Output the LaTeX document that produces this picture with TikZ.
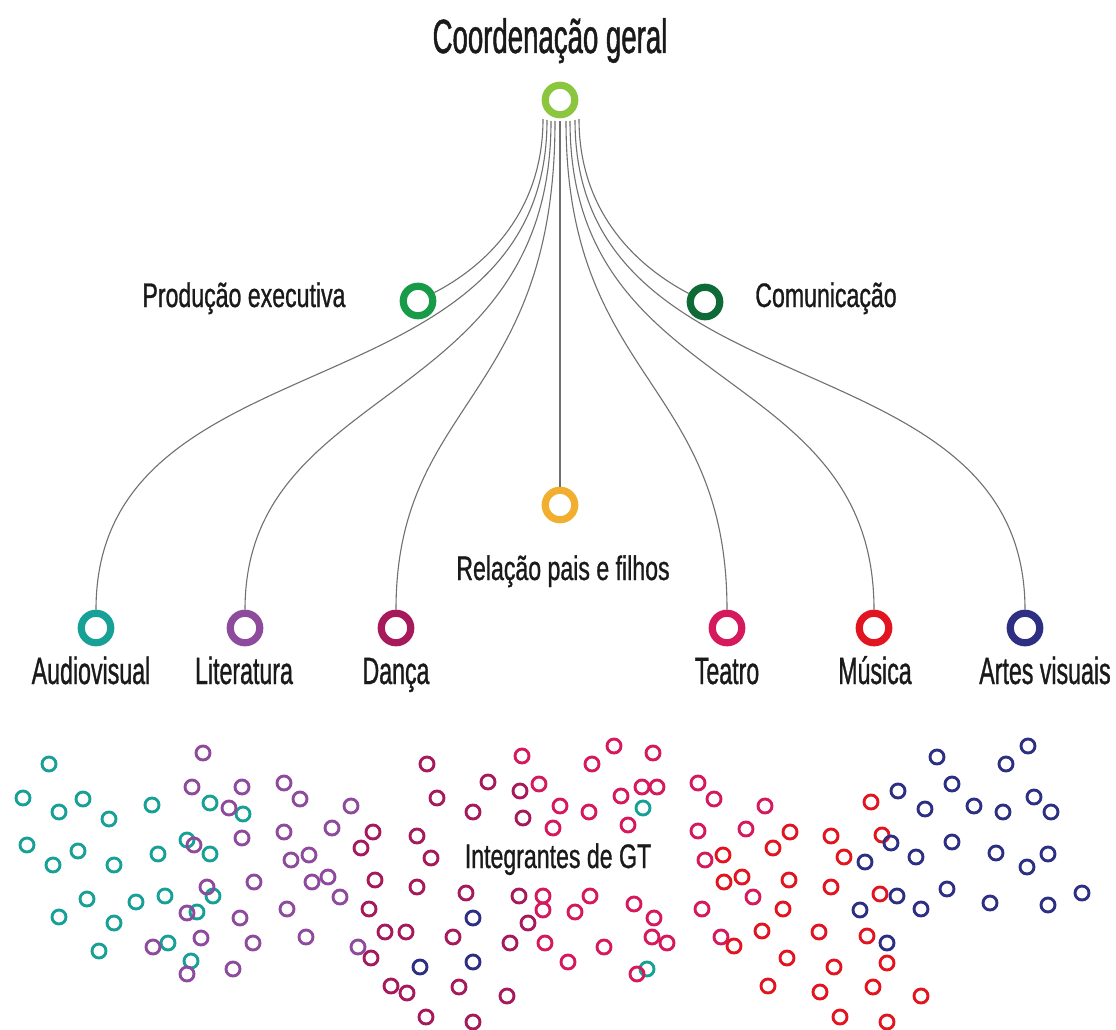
\documentclass[tikz,border=0pt]{standalone}
\usepackage{fontspec}
\newfontfamily\lblfont[FakeStretch=0.68,FakeBold=0.8]{Liberation Sans}
\newfontfamily\botfont[FakeStretch=0.61,FakeBold=0.8]{Liberation Sans}
\newfontfamily\ttlfont[FakeStretch=0.575,FakeBold=1]{Liberation Sans}
\definecolor{cgeral}{HTML}{8CC63F}
\definecolor{cprod}{HTML}{179B48}
\definecolor{ccomu}{HTML}{0E6B36}
\definecolor{crel}{HTML}{F2AE2E}
\definecolor{caud}{HTML}{17A095}
\definecolor{clit}{HTML}{8E4B9D}
\definecolor{cdan}{HTML}{A6195B}
\definecolor{ctea}{HTML}{D6185C}
\definecolor{cmus}{HTML}{E2141F}
\definecolor{cart}{HTML}{2D2F82}
\definecolor{cedge}{HTML}{707070}
\definecolor{ctext}{HTML}{1A1A1A}
\begin{document}
\begin{tikzpicture}[x=1pt,y=-1pt,
  ring/.style={circle,draw=#1,line width=7.2pt,fill=white,minimum size=29.5pt,inner sep=0pt},
  dot/.style={circle,draw=#1,line width=2.9pt,minimum size=14pt,inner sep=0pt},
  lbl/.style={font=\lblfont\fontsize{34}{40}\selectfont,anchor=base,text=ctext,inner sep=0pt},
  bot/.style={font=\botfont\fontsize{38}{44}\selectfont,anchor=base,text=ctext,inner sep=0pt},
  ttl/.style={font=\ttlfont\fontsize{48}{54}\selectfont,anchor=base,text=ctext,inner sep=0pt},
  link/.style={draw=cedge,line width=1.1pt}]
\fill[white] (0,0) rectangle (1116,1030);
\useasboundingbox (0,0) rectangle (1116,1030);

% titles and labels
\node[ttl] (title) at (550,53) {Coordenação geral};
\node[lbl] (lprod) at (244,307) {Produção executiva};
\node[lbl] (lcomu) at (826,307) {Comunicação};
\node[lbl] (lrel) at (563,580) {Relação pais e filhos};
\node[bot] (laud) at (91,684) {Audiovisual};
\node[bot] (llit) at (244,684) {Literatura};
\node[bot] (ldan) at (396,684) {Dança};
\node[bot] (ltea) at (727,684) {Teatro};
\node[bot] (lmus) at (875,684) {Música};
\node[bot] (lart) at (1045,684) {Artes visuais};
\node[lbl] (lgt) at (558,868) {Integrantes de GT};

% main rings
\node[ring=cgeral] (geral) at (560,100) {};
\node[ring=cprod] (prod) at (418,301) {};
\node[ring=ccomu] (comu) at (705,302) {};
\node[ring=crel] (rel) at (560,505) {};
\node[ring=caud] (aud) at (96,628) {};
\node[ring=clit] (lit) at (245,628) {};
\node[ring=cdan] (dan) at (396,628) {};
\node[ring=ctea] (tea) at (727,628) {};
\node[ring=cmus] (mus) at (874,628) {};
\node[ring=cart] (art) at (1025,628) {};

% start points of links
\coordinate (s1) at (543,119);
\coordinate (s2) at (547,120);
\coordinate (s3) at (551,121);
\coordinate (s4) at (555,121);
\coordinate (s5) at (560,121);
\coordinate (s6) at (566,121);
\coordinate (s7) at (570,121);
\coordinate (s8) at (575,120);
\coordinate (s9) at (579,119);

\draw[link] (s1) .. controls (543,215) and (482,268) .. (prod);
\draw[link] (s2) .. controls (547,420) and (96,330) .. (aud);
\draw[link] (s3) .. controls (551,410) and (245,380) .. (lit);
\draw[link] (s4) .. controls (555,400) and (396,400) .. (dan);
\draw[link] (s5) -- (rel);
\draw[link] (s6) .. controls (566,380) and (727,380) .. (tea);
\draw[link] (s7) .. controls (570,400) and (874,360) .. (mus);
\draw[link] (s8) .. controls (575,420) and (1025,330) .. (art);
\draw[link] (s9) .. controls (579,215) and (640,268) .. (comu);

% members: audiovisual
\foreach \x/\y [count=\i] in {49/764,23/798,83/799,59/812,109/819,152/805,27/845,78/851,53/865,114/865,158/854,87/899,136/902,165/896,59/917,114/923,99/951,168/943,210/803,243/814,187/840,210/854,213/896,197/912,191/961,643/808,647/969}
  \node[dot=caud] (ma\i) at (\x,\y) {};
% literatura
\foreach \x/\y [count=\i] in {153/947,203/753,192/787,242/787,229/808,284/783,300/799,351/806,194/845,242/838,284/832,332/828,291/860,309/855,207/887,254/882,312/882,328/877,340/897,187/913,240/918,287/909,201/938,253/943,306/937,187/974,233/969,358/947}
  \node[dot=clit] (ml\i) at (\x,\y) {};
% danca
\foreach \x/\y [count=\i] in {427/764,437/798,488/782,520/791,473/812,523/818,373/832,417/836,361/848,431/858,375/880,417/887,466/893,519/896,369/909,528/923,385/932,406/932,453/937,510/943,371/958,391/986,407/993,459/987,507/996,426/1017,473/1022}
  \node[dot=cdan] (md\i) at (\x,\y) {};
% teatro
\foreach \x/\y [count=\i] in {522/756,539/784,553/828,543/896,543/910,545/943,614/746,653/753,592/764,642/787,657/787,698/783,714/799,621/796,560/806,589/812,628/825,698/831,705/860,590/896,575/912,634/904,654/918,702/909,652/937,667/943,604/947,721/937,568/962,637/974,765/806,746/829,753/897}
  \node[dot=ctea] (mt\i) at (\x,\y) {};
% musica
\foreach \x/\y [count=\i] in {871/802,790/832,831/836,882/835,773/848,844/857,723/855,742/877,724/882,789/880,831/887,880/894,783/909,762/931,819/932,867/936,734/946,787/958,834/967,887/963,768/986,820/992,873/987,840/1017,887/1022,921/996}
  \node[dot=cmus] (mm\i) at (\x,\y) {};
% artes visuais
\foreach \x/\y [count=\i] in {898/791,891/843,865/862,897/896,860/910,887/943,937/757,1028/746,1006/764,952/784,925/809,974/806,1003/812,1034/797,1051/812,952/842,916/857,996/853,1027/867,1048/854,947/889,921/909,990/903,1048/905,1082/893,473/918,420/967,473/962}
  \node[dot=cart] (mv\i) at (\x,\y) {};
\end{tikzpicture}
\end{document}
